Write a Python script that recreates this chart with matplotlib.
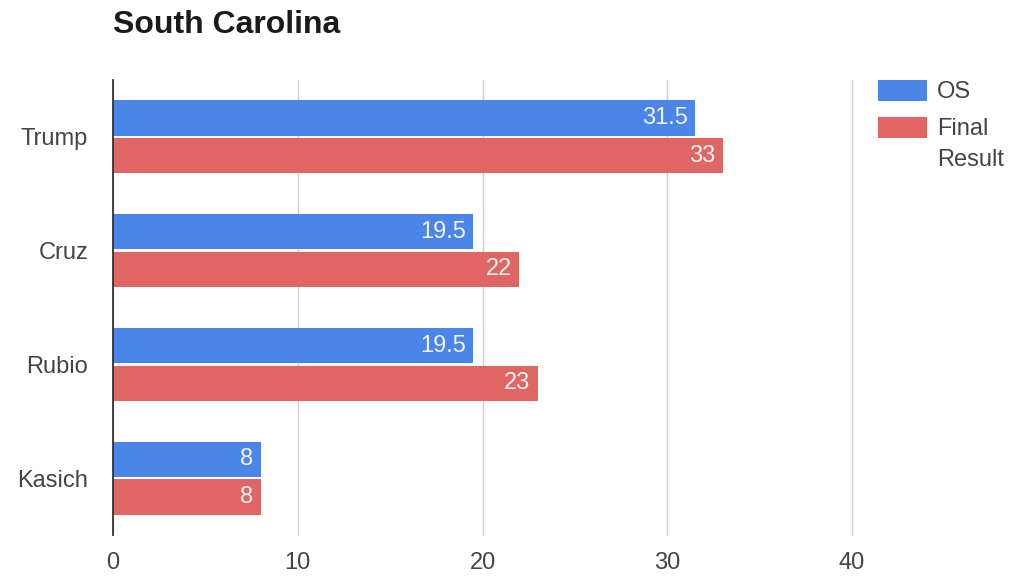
import matplotlib
matplotlib.use("Agg")
import matplotlib.pyplot as plt
from matplotlib.patches import Rectangle
import numpy as np

plt.rcParams['font.family'] = ['Liberation Sans', 'DejaVu Sans']

candidates = ["Trump", "Cruz", "Rubio", "Kasich"]
os_values = [31.5, 19.5, 19.5, 8]
final_values = [33, 22, 23, 8]
series_names = ["OS", "Final\nResult"]
x_ticks = [0, 10, 20, 30, 40]

blue = "#4a86e8"
red = "#e06666"
fs = 17
W, H = 1016, 577

fig = plt.figure(figsize=(W / 100, H / 100), dpi=100)
ax = fig.add_axes([113 / W, 1 - 535 / H, 739 / W, 455 / H])

y = np.arange(len(candidates))
h = 0.31
gap = 0.01
b1 = ax.barh(y - h / 2 - gap, os_values, height=h, color=blue, zorder=3)
b2 = ax.barh(y + h / 2 + gap, final_values, height=h, color=red, zorder=3)

for bars, vals in ((b1, os_values), (b2, final_values)):
    for bar, v in zip(bars, vals):
        ax.text(bar.get_width() - 0.4, bar.get_y() + bar.get_height() / 2,
                f"{v:g}", ha="right", va="center", color="#f2f2f2",
                fontsize=fs, zorder=4)

ax.set_xlim(0, 40)
ax.set_ylim(len(candidates) - 0.5, -0.5)
ax.set_xticks(x_ticks)
ax.set_xticklabels([str(t) for t in x_ticks])
ax.set_yticks(y)
ax.set_yticklabels(candidates)
ax.tick_params(axis="both", length=0, labelsize=fs, labelcolor="#444444")
ax.tick_params(axis="x", pad=12)
ax.tick_params(axis="y", pad=18)
ax.grid(axis="x", color="#cccccc", linewidth=1, zorder=0)
for gl in ax.get_xgridlines():
    gl.set_clip_on(False)
for s in ("top", "right", "bottom"):
    ax.spines[s].set_visible(False)
ax.spines["left"].set_color("#333333")
ax.spines["left"].set_linewidth(1.3)
ax.spines["left"].set_zorder(5)

fig.text(113 / W, 1 - 25 / H, "South Carolina", fontsize=23, fontweight="bold",
         ha="left", va="center", color="#1a1a1a")

# legend: swatch on the first line of each entry
legend_rows = [(series_names[0], blue, 80), (series_names[1], red, 117)]
for label, color, top in legend_rows:
    fig.add_artist(Rectangle((878 / W, 1 - (top + 21) / H), 49 / W, 21 / H,
                             transform=fig.transFigure, facecolor=color,
                             edgecolor="none"))
    fig.text(937 / W, 1 - (top + 1) / H, label, fontsize=fs, color="#444444",
             ha="left", va="top", linespacing=1.55)

fig.savefig("out.png", dpi=100, facecolor="white")
